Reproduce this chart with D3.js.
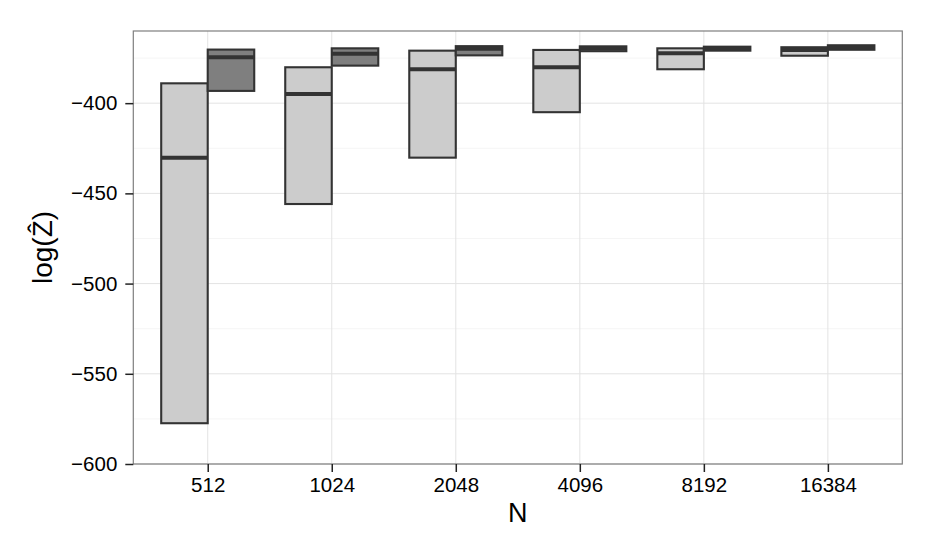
<!DOCTYPE html>
<html><head><meta charset="utf-8">
<script src="https://cdn.jsdelivr.net/npm/d3@7"></script>
<style>body{margin:0;background:#fff}svg{display:block}text{font-family:"Liberation Sans",Arial,sans-serif}</style>
</head><body>
<svg id="c" width="934" height="545"></svg>
<script>
const categories = ["512","1024","2048","4096","8192","16384"];
// light grey series (lower hinge, median, upper hinge)
const lightLower = [-577.4, -455.9, -430.2, -405.0, -381.2, -373.7];
const lightMid   = [-430.2, -394.9, -381.2, -380.1, -372.4, -370.5];
const lightUpper = [-389.0, -380.1, -370.9, -370.5, -369.6, -369.0];
// dark grey series
const darkLower = [-393.2, -379.2, -373.5, -371.2, -370.9, -370.4];
const darkMid   = [-374.5, -372.6, -369.9, -369.6, -369.8, -369.1];
const darkUpper = [-370.3, -369.6, -368.4, -368.5, -368.7, -367.9];
const yMajor = [-600, -550, -500, -450, -400];
const yMinor = [-575, -525, -475, -425, -375];

const svg = d3.select("#c");
const L = 133.3, R = 902.3, T = 31, B = 464;
const x = d3.scalePoint().domain(categories).range([L, R]).padding(0.6);
const y = d3.scaleLinear().domain([-600, -360]).range([B, T]);
const bw = x.step() * 0.375;

svg.append("rect").attr("x", L).attr("y", T).attr("width", R - L).attr("height", B - T).attr("fill", "#fff");
const g = svg.append("g");
g.selectAll(".mn").data(yMinor).join("line")
  .attr("x1", L).attr("x2", R).attr("y1", d => y(d)).attr("y2", d => y(d))
  .attr("stroke", "#f5f5f5").attr("stroke-width", 1);
g.selectAll(".mj").data(yMajor).join("line")
  .attr("x1", L).attr("x2", R).attr("y1", d => y(d)).attr("y2", d => y(d))
  .attr("stroke", "#e3e3e3").attr("stroke-width", 1);
g.selectAll(".vx").data(categories).join("line")
  .attr("x1", d => x(d)).attr("x2", d => x(d)).attr("y1", T).attr("y2", B)
  .attr("stroke", "#e3e3e3").attr("stroke-width", 1);

function series(lower, mid, upper, fill, offset) {
  const data = categories.map((c, i) => ({c, lo: lower[i], md: mid[i], up: upper[i]}));
  const gg = svg.append("g");
  data.forEach(d => {
    const x0 = x(d.c) + offset;
    gg.append("rect").attr("x", x0).attr("width", bw)
      .attr("y", y(d.up)).attr("height", y(d.lo) - y(d.up))
      .attr("fill", fill).attr("stroke", "#333333").attr("stroke-width", 2.1);
    gg.append("line").attr("x1", x0).attr("x2", x0 + bw)
      .attr("y1", y(d.md)).attr("y2", y(d.md))
      .attr("stroke", "#333333").attr("stroke-width", 4);
  });
}
series(lightLower, lightMid, lightUpper, "#cccccc", -bw);
series(darkLower, darkMid, darkUpper, "#7f7f7f", 0);

svg.append("rect").attr("x", L).attr("y", T).attr("width", R - L).attr("height", B - T)
  .attr("fill", "none").attr("stroke", "#7f7f7f").attr("stroke-width", 1.2);

const xa = svg.append("g").attr("transform", `translate(0,${B})`)
  .call(d3.axisBottom(x).tickSize(8).tickPadding(5));
xa.select(".domain").remove();
xa.selectAll("line").attr("stroke", "#222").attr("stroke-width", 1.5);
xa.selectAll("text").attr("font-size", 20.5).attr("fill", "#000").attr("font-family", "Liberation Sans, Arial, sans-serif");

const ya = svg.append("g").attr("transform", `translate(${L},0)`)
  .call(d3.axisLeft(y).tickValues(yMajor).tickSize(8).tickPadding(8).tickFormat(d => "\u2212" + Math.abs(d)));
ya.select(".domain").remove();
ya.selectAll("line").attr("stroke", "#222").attr("stroke-width", 1.5);
ya.selectAll("text").attr("font-size", 20.5).attr("fill", "#000").attr("font-family", "Liberation Sans, Arial, sans-serif");

svg.append("text").attr("x", (L + R) / 2).attr("y", 522).attr("text-anchor", "middle")
  .attr("font-size", 27).attr("fill", "#000").text("N");
svg.append("text").attr("transform", `translate(52,${(T + B) / 2}) rotate(-90)`)
  .attr("text-anchor", "middle").attr("font-size", 28).attr("fill", "#000").text("log(\u1E90)");
</script>
</body></html>
